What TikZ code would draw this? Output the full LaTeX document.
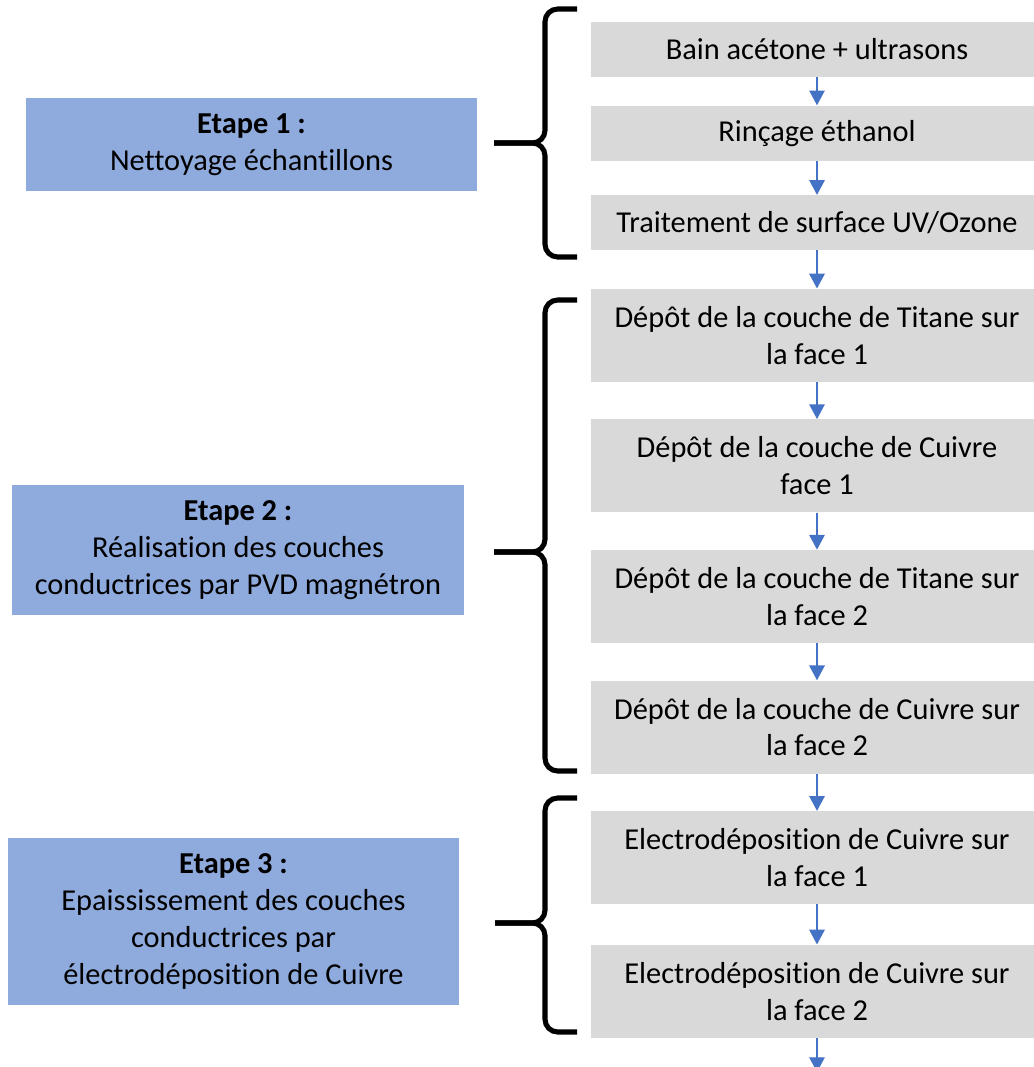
\documentclass[tikz,border=0pt]{standalone}
\usepackage{fontspec}
\setmainfont{Carlito}[Ligatures=NoCommon]
\usetikzlibrary{arrows.meta, positioning}
\definecolor{stepgray}{HTML}{D9D9D9}
\definecolor{etapeblue}{HTML}{8FAADC}
\definecolor{flowblue}{HTML}{4472C4}

\begin{document}
\begin{tikzpicture}[
    x=0.025cm, y=-0.025cm,
    node distance=9.25mm,
    stepbox/.style = {rectangle, fill=stepgray, align=center, minimum width=11.3cm, minimum height=1.375cm, inner sep=0pt, font=\fontsize{21.6}{26.3}\selectfont},
    twoline/.style = {stepbox, minimum height=2.325cm},
    etape/.style = {rectangle, fill=etapeblue, align=center, minimum width=11.275cm, inner sep=0pt, font=\fontsize{21.6}{26.3}\selectfont},
    flow/.style = {-{Triangle[width=11pt, length=10.5pt]}, color=flowblue, line width=1pt},
    brace/.style = {line width=3.6pt, rounded corners=9pt}]

    \useasboundingbox (0,0) rectangle (1034,1067);

    % etapes du procede
    \node[stepbox] (b1) at (817,49.5) {Bain acétone + ultrasons};
    \node[stepbox, below=0.7cm of b1] (b2) {Rinçage éthanol};
    \node[stepbox, below=0.85cm of b2] (b3) {Traitement de surface UV/Ozone};
    \node[twoline, below=0.95cm of b3] (b4) {Dépôt de la couche de Titane sur\\la face 1};
    \node[twoline, below=of b4] (b5) {Dépôt de la couche de Cuivre\\face 1};
    \node[twoline, below=of b5] (b6) {Dépôt de la couche de Titane sur\\la face 2};
    \node[twoline, below=of b6] (b7) {Dépôt de la couche de Cuivre sur\\la face 2};
    \node[twoline, below=of b7] (b8) {Electrodéposition de Cuivre sur\\la face 1};
    \node[twoline, below=1cm of b8] (b9) {Electrodéposition de Cuivre sur\\la face 2};
    \coordinate[below=0.85cm of b9] (fin);

    % titres des etapes
    \node[etape, minimum height=2.325cm] (e1) at (251.5,144.5) {\textbf{Etape 1 :}\\Nettoyage échantillons};
    \node[etape, minimum height=3.25cm] (e2) at (238,550) {\textbf{Etape 2 :}\\Réalisation des couches\\conductrices par PVD magnétron};
    \node[etape, minimum height=4.175cm] (e3) at (233.5,921.5) {\textbf{Etape 3 :}\\Epaississement des couches\\conductrices par\\électrodéposition de Cuivre};

    \draw[flow] (b1) -- (b2);
    \draw[flow] (b2) -- (b3);
    \draw[flow] (b3) -- (b4);
    \draw[flow] (b4) -- (b5);
    \draw[flow] (b5) -- (b6);
    \draw[flow] (b6) -- (b7);
    \draw[flow] (b7) -- (b8);
    \draw[flow] (b8) -- (b9);
    \draw[flow] (b9) -- (fin);

    % accolades
    \draw[brace] (577,9) -| (545,143) -- (494,143);
    \draw[brace] (577,257) -| (545,143) -- (494,143);
    \draw[brace] (577,300) -| (545,552) -- (494,552);
    \draw[brace] (577,771) -| (545,552) -- (494,552);
    \draw[brace] (577,798) -| (545,923) -- (495,923);
    \draw[brace] (577,1032) -| (545,923) -- (495,923);

\end{tikzpicture}
\end{document}
